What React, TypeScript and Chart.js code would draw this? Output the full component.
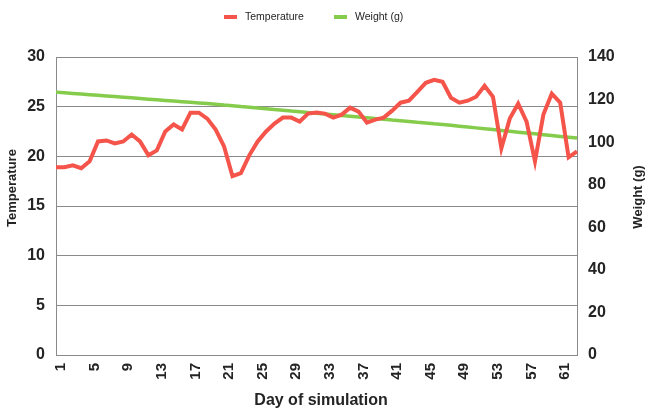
import React, { useEffect, useRef } from "react";
import { Chart, registerables } from "chart.js";

Chart.register(...registerables);

const days = [
  "1", "2", "3", "4", "5", "6", "7", "8", "9", "10",
  "11", "12", "13", "14", "15", "16", "17", "18", "19", "20",
  "21", "22", "23", "24", "25", "26", "27", "28", "29", "30",
  "31", "32", "33", "34", "35", "36", "37", "38", "39", "40",
  "41", "42", "43", "44", "45", "46", "47", "48", "49", "50",
  "51", "52", "53", "54", "55", "56", "57", "58", "59", "60",
  "61", "62", "63",
];

const temperature = [
  18.9, 18.9, 19.1, 18.8, 19.5, 21.5, 21.6, 21.3, 21.5, 22.2,
  21.5, 20.1, 20.6, 22.5, 23.2, 22.7, 24.4, 24.4, 23.8, 22.7,
  21.0, 18.0, 18.3, 20.1, 21.5, 22.5, 23.3, 23.9, 23.9, 23.5,
  24.3, 24.4, 24.3, 23.9, 24.2, 24.9, 24.5, 23.4, 23.7, 23.9,
  24.6, 25.4, 25.6, 26.5, 27.4, 27.7, 27.5, 25.9, 25.4, 25.6,
  26.0, 27.1, 26.0, 20.8, 23.8, 25.3, 23.5, 19.5, 24.2, 26.3,
  25.4, 19.9, 20.5,
];

const weight = [
  123.5, 123.2, 122.9, 122.6, 122.3, 122.0, 121.7, 121.4, 121.1, 120.8,
  120.5, 120.2, 119.9, 119.6, 119.3, 119.0, 118.7, 118.4, 118.1, 117.8,
  117.4, 117.1, 116.7, 116.4, 116.0, 115.7, 115.3, 115.0, 114.6, 114.3,
  113.9, 113.6, 113.2, 112.9, 112.5, 112.2, 111.8, 111.5, 111.1, 110.8,
  110.4, 110.1, 109.7, 109.3, 109.0, 108.6, 108.3, 107.9, 107.5, 107.1,
  106.7, 106.3, 105.9, 105.5, 105.1, 104.7, 104.3, 103.9, 103.5, 103.1,
  102.7, 102.3, 101.9,
];

const seriesNames = ["Temperature", "Weight (g)"];
const xTitle = "Day of simulation";
const leftTitle = "Temperature";
const rightTitle = "Weight (g)";

const RED = "#f4544a";
const GREEN = "#86cc4c";
const TEXT = "#242424";
const GRID = "#8a8a8a";
const FONT = "'Liberation Sans', Arial, sans-serif";

const overlayPlugin = {
  id: "overlayTexts",
  afterDraw(chart: any) {
    const ctx = chart.ctx as CanvasRenderingContext2D;
    ctx.save();
    // legend
    ctx.font = `10.5px ${FONT}`;
    ctx.textBaseline = "middle";
    ctx.textAlign = "left";
    const legendY = 17;
    const items = [
      { x: 224, label: chart.data.datasets[0].label, color: chart.data.datasets[0].borderColor },
      { x: 334, label: chart.data.datasets[1].label, color: chart.data.datasets[1].borderColor },
    ];
    for (const it of items) {
      ctx.fillStyle = it.color;
      ctx.fillRect(it.x, legendY - 2, 13, 4);
      ctx.fillStyle = TEXT;
      ctx.fillText(it.label, it.x + 21, legendY);
    }
    // axis titles
    ctx.font = `bold 13px ${FONT}`;
    ctx.textAlign = "center";
    ctx.fillStyle = TEXT;
    ctx.save();
    ctx.translate(12, 188);
    ctx.rotate(-Math.PI / 2);
    ctx.fillText(leftTitle, 0, 0);
    ctx.restore();
    ctx.save();
    ctx.translate(638, 197);
    ctx.rotate(-Math.PI / 2);
    ctx.fillText(rightTitle, 0, 0);
    ctx.restore();
    ctx.font = `bold 16px ${FONT}`;
    ctx.fillText(xTitle, 321, 401);
    ctx.restore();
  },
};

export default function App() {
  const ref = useRef<HTMLCanvasElement | null>(null);

  useEffect(() => {
    if (!ref.current) return;
    const chart = new Chart(ref.current, {
      type: "line",
      data: {
        labels: days,
        datasets: [
          {
            label: seriesNames[0],
            data: temperature,
            borderColor: RED,
            backgroundColor: RED,
            borderWidth: 4,
            pointRadius: 0,
            tension: 0,
            yAxisID: "y",
          },
          {
            label: seriesNames[1],
            data: weight,
            borderColor: GREEN,
            backgroundColor: GREEN,
            borderWidth: 3.5,
            pointRadius: 0,
            tension: 0,
            yAxisID: "y1",
          },
        ],
      },
      options: {
        responsive: false,
        animation: false,
        layout: { padding: { top: 57, left: 0, right: 0, bottom: 0 } },
        plugins: {
          legend: { display: false },
          tooltip: { enabled: false },
        },
        scales: {
          x: {
            offset: false,
            grid: { display: false, drawTicks: false },
            border: { display: true, color: GRID, width: 1 },
            ticks: {
              autoSkip: false,
              maxRotation: 90,
              minRotation: 90,
              padding: 8,
              labelOffset: 5,
              color: TEXT,
              font: { family: FONT, size: 15, weight: "bold" },
              callback: (_v: any, i: number) => (i % 4 === 0 ? days[i] : ""),
            },
            afterFit: (s: any) => {
              s.height = 56;
            },
          },
          y: {
            position: "left",
            min: 0,
            max: 30,
            grid: { color: GRID, lineWidth: 1, drawTicks: false },
            border: { display: true, color: GRID, width: 1 },
            ticks: {
              stepSize: 5,
              padding: 11,
              color: TEXT,
              font: { family: FONT, size: 16, weight: "bold" },
            },
            afterFit: (s: any) => {
              s.width = 56;
            },
          },
          y1: {
            position: "right",
            min: 0,
            max: 140,
            grid: { drawOnChartArea: false, drawTicks: false },
            border: { display: true, color: GRID, width: 1 },
            ticks: {
              stepSize: 20,
              padding: 11,
              color: TEXT,
              font: { family: FONT, size: 16, weight: "bold" },
            },
            afterFit: (s: any) => {
              s.width = 71;
            },
          },
        },
      },
      plugins: [overlayPlugin],
    });
    return () => chart.destroy();
  }, []);

  return (
    <div style={{ position: "fixed", left: 0, top: 0, width: 648, height: 411, background: "#fff" }}>
      <canvas ref={ref} width={648} height={411} style={{ width: 648, height: 411 }} />
    </div>
  );
}
